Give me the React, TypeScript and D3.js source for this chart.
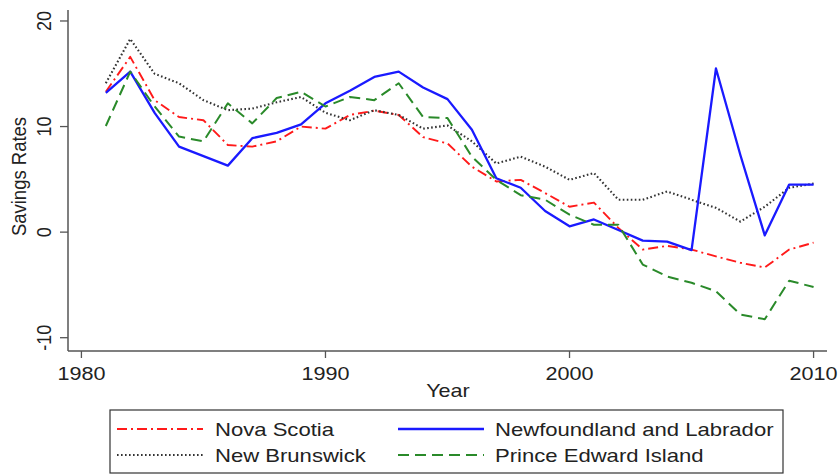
import React from "react";
import * as d3 from "d3";

const years = d3.range(1981, 2011);
const novaScotia = [13.3, 16.6, 12.5, 10.9, 10.6, 8.25, 8.1, 8.6, 10.0, 9.8, 11.1, 11.5, 11.1, 9.0, 8.4, 6.2, 4.8, 4.95, 3.7, 2.4, 2.8, 0.4, -1.65, -1.3, -1.65, -2.3, -2.9, -3.35, -1.65, -1.0];
const newBrunswick = [14.1, 18.3, 15.0, 14.1, 12.5, 11.55, 11.7, 12.3, 12.8, 11.3, 10.6, 11.55, 11.1, 9.8, 10.1, 8.6, 6.5, 7.15, 6.2, 4.95, 5.6, 3.07, 3.07, 3.85, 3.07, 2.3, 1.0, 2.4, 4.2, 4.6];
const newfoundland = [13.2, 15.2, 11.3, 8.1, 7.2, 6.3, 8.9, 9.4, 10.2, 12.2, 13.4, 14.7, 15.2, 13.7, 12.6, 9.7, 5.1, 4.2, 2.0, 0.55, 1.2, 0.2, -0.8, -0.9, -1.7, 15.5, 7.3, -0.3, 4.5, 4.5];
const pei = [10.05, 15.2, 11.9, 9.05, 8.6, 12.2, 10.3, 12.7, 13.3, 11.9, 12.8, 12.5, 14.1, 10.9, 10.8, 7.15, 4.95, 3.5, 3.07, 1.65, 0.7, 0.7, -3.07, -4.2, -4.8, -5.6, -7.8, -8.25, -4.6, -5.2];

const xTicks = [1980, 1990, 2000, 2010];
const yTicks = [-10, 0, 10, 20];

const seriesNames = ["Nova Scotia", "New Brunswick", "Newfoundland and Labrador", "Prince Edward Island"];
const seriesValues = [novaScotia, newBrunswick, newfoundland, pei];
const seriesColors = ["#ff1a1a", "#333333", "#1a1aff", "#2a8a2a"];
const seriesDash = ["10,4,2,4", "1.6,2.4", "none", "11,6"];
const seriesWidth = [1.9, 2.1, 2.3, 2];

const FONT = "'Liberation Sans', Arial, sans-serif";
const SX = 1.2;

function T({ x, y, children, anchor = "middle", size = 18 }: any) {
  return (
    <text
      transform={`translate(${x},${y}) scale(${SX},1)`}
      textAnchor={anchor}
      fontSize={size}
      fontFamily={FONT}
      fill="#222"
    >
      {children}
    </text>
  );
}

function RT({ x, y, children, size = 18 }: any) {
  return (
    <text
      transform={`translate(${x},${y}) rotate(-90) scale(1,1.12)`}
      textAnchor="middle"
      fontSize={size}
      fontFamily={FONT}
      fill="#222"
    >
      {children}
    </text>
  );
}

export default function App() {
  const W = 840, H = 475;
  const x = d3.scaleLinear().domain([1979.45, 2010.55]).range([68, 827]);
  const y = d3.scaleLinear().domain([-11.26, 21.04]).range([351, 10]);
  const line = d3
    .line<number>()
    .x((_, i) => x(years[i]))
    .y((d) => y(d));

  const legendItems = [
    { i: 0, lx: 117, tx: 215, ly: 429 },
    { i: 2, lx: 398, tx: 495, ly: 429 },
    { i: 1, lx: 117, tx: 215, ly: 455 },
    { i: 3, lx: 398, tx: 495, ly: 455 },
  ];

  return (
    <svg
      width={W}
      height={H}
      style={{ position: "absolute", left: 0, top: 0, background: "#fff" }}
    >
      <rect x={0} y={0} width={W} height={H} fill="#fff" />
      {seriesValues.map((vals, i) => (
        <path
          key={seriesNames[i]}
          d={line(vals) || ""}
          fill="none"
          stroke={seriesColors[i]}
          strokeWidth={seriesWidth[i]}
          strokeDasharray={seriesDash[i]}
          strokeLinejoin="round"
        />
      ))}
      <line x1={x.range()[0]} x2={x.range()[0]} y1={y.range()[0]} y2={y.range()[1]} stroke="#555" strokeWidth={1.5} />
      <line x1={x.range()[0]} x2={x.range()[1]} y1={y.range()[0]} y2={y.range()[0]} stroke="#555" strokeWidth={1.5} />
      {yTicks.map((t) => (
        <g key={"y" + t}>
          <line x1={60} x2={68} y1={y(t)} y2={y(t)} stroke="#555" strokeWidth={1.3} />
          <RT x={50.5} y={y(t)}>{t}</RT>
        </g>
      ))}
      {xTicks.map((t) => (
        <g key={"x" + t}>
          <line x1={x(t)} x2={x(t)} y1={351} y2={358} stroke="#555" strokeWidth={1.3} />
          <T x={x(t)} y={380}>{t}</T>
        </g>
      ))}
      <T x={448} y={397}>Year</T>
      <RT x={25.5} y={176.5} size={18.5}>Savings Rates</RT>
      <rect x={110} y={410} width={673} height={63} fill="#fff" stroke="#333" strokeWidth={1.2} />
      {legendItems.map(({ i, lx, tx, ly }) => (
        <g key={"leg" + i}>
          <line
            x1={lx}
            x2={lx + 86}
            y1={ly}
            y2={ly}
            stroke={seriesColors[i]}
            strokeWidth={seriesWidth[i]}
            strokeDasharray={seriesDash[i]}
          />
          <T x={tx} y={ly + 7} anchor="start" size={18.4}>{seriesNames[i]}</T>
        </g>
      ))}
    </svg>
  );
}
